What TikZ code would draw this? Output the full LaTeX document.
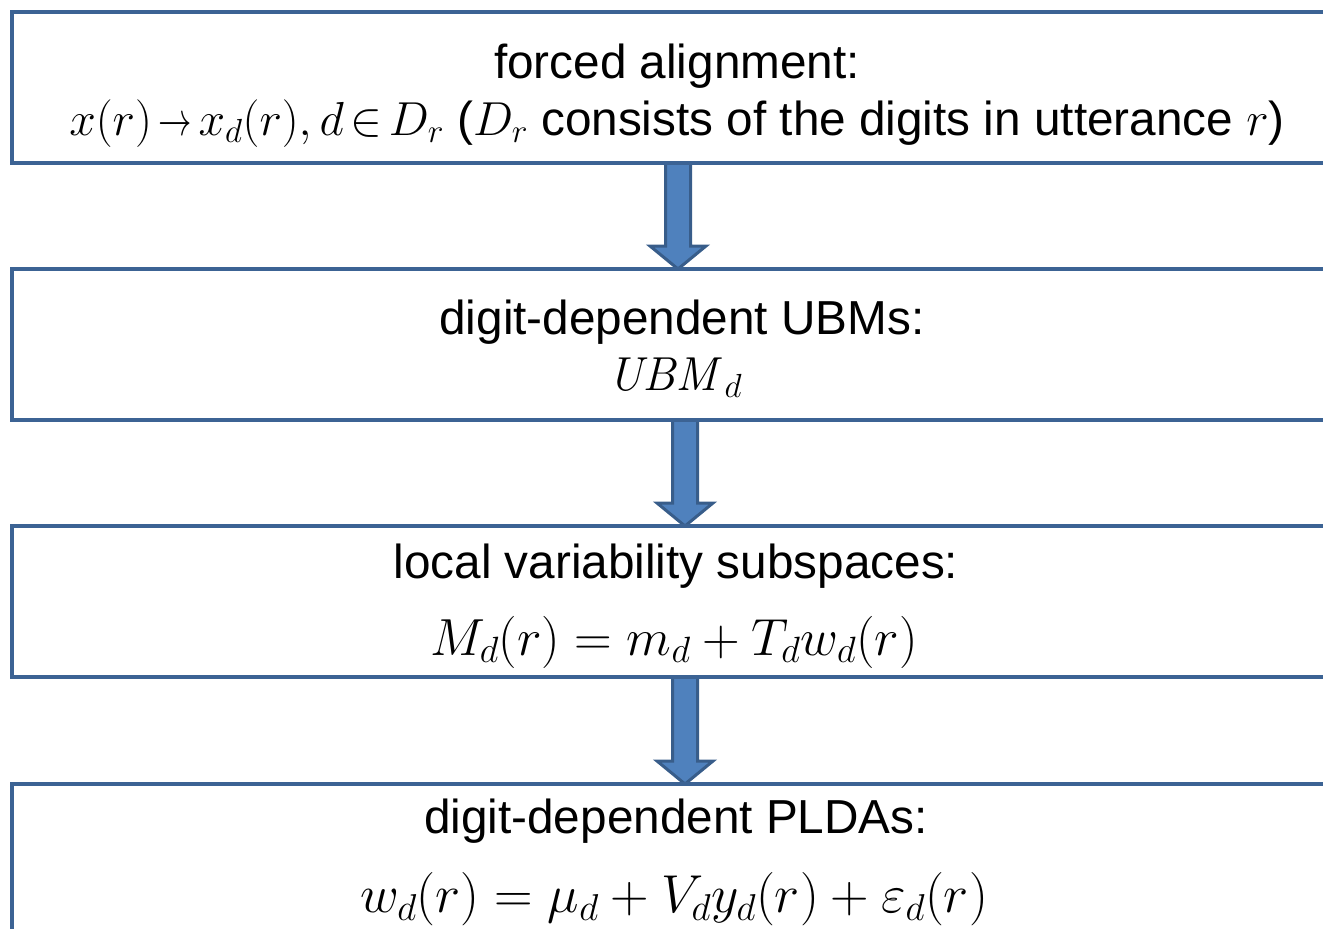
\RequirePackage{fix-cm}
\documentclass[tikz,border=0pt]{standalone}
\usepackage[no-math]{fontspec}
\setmainfont{Liberation Sans}
\usetikzlibrary{calc}

\definecolor{boxline}{RGB}{60,99,148}
\definecolor{arrowfill}{RGB}{79,129,189}
\definecolor{arrowline}{RGB}{56,93,138}

\tikzset{
  stagebox/.style={draw=boxline, line width=4.5pt, rectangle, outer sep=0pt,
    inner sep=0pt, minimum width=1328pt, minimum height=151pt},
  label/.style={anchor=base, inner sep=0pt,
    font=\fontsize{47.7}{57}\selectfont},
  formula/.style={anchor=base, inner sep=0pt,
    font=\fontsize{#1}{60}\selectfont},
  flowarrow/.style={fill=arrowfill, draw=arrowline, line width=3pt, line join=miter},
}

% a slightly narrower mapping arrow
\newcommand\maparrow{\mathrel{\scalebox{0.7}[1]{$\rightarrow$}}}

% block arrow from the bottom of box #1 to the top of box #2, shifted #3 from the centre
\newcommand\stagearrow[3]{%
  \draw[flowarrow] let \p1=($(#1.south)+(#3,0)$), \p2=($(#2.north)+(#3,0)$) in
    (\x1-12.5pt,\y1) -- (\x1+12.5pt,\y1) -- (\x1+12.5pt,\y2+23pt)
    -- (\x1+28pt,\y2+23pt) -- (\x2,\y2) -- (\x1-28pt,\y2+23pt)
    -- (\x1-12.5pt,\y2+23pt) -- cycle;}

\begin{document}
\begin{tikzpicture}[x=1pt,y=-1pt]
\useasboundingbox (0,0) rectangle (1323,929);

% the four processing stages
\node[stagebox] (b1) at (676,87.5) {};
\node[stagebox] (b2) at (676,344.5) {};
\node[stagebox] (b3) at (676,601.5) {};
\node[stagebox] (b4) at (676,859.5) {};

% arrows between consecutive stages
\stagearrow{b1}{b2}{2}
\stagearrow{b2}{b3}{9}
\stagearrow{b3}{b4}{9}

% redraw the outlines on top of the arrow ends
\node[stagebox] at (b1) {};
\node[stagebox] at (b2) {};
\node[stagebox] at (b3) {};
\node[stagebox] at (b4) {};

% stage texts
\node[label] (t1a) at ($(b1.north)+(1,66)$) {forced alignment:};
\node[label] (t1b) at ($(b1.north)+(1,123)$)
  {\thickmuskip=2.5mu$x(r)\maparrow x_d(r), d\in D_r$ ($D_r$ consists of the digits in utterance $r$)};

\node[label] (t2a) at ($(b2.north)+(6,65)$) {digit-dependent UBMs:};
\node[label] (t2b) at ($(b2.north)+(-1,121)$) {$\mathit{UBM}_d$};

\node[label] (t3a) at ($(b3.north)+(0,52)$) {local variability subspaces:};
\node[formula=52.2] (t3b) at ($(b3.north)+(-2,129)$) {$M_d(r)=m_d+T_d w_d(r)$};

\node[label] (t4a) at ($(b4.north)+(0,49)$) {digit-dependent PLDAs:};
\node[formula=53.4] (t4b) at ($(b4.north)+(-2,128)$) {$w_d(r)=\mu_d+V_d y_d(r)+\varepsilon_d(r)$};
\end{tikzpicture}
\end{document}
